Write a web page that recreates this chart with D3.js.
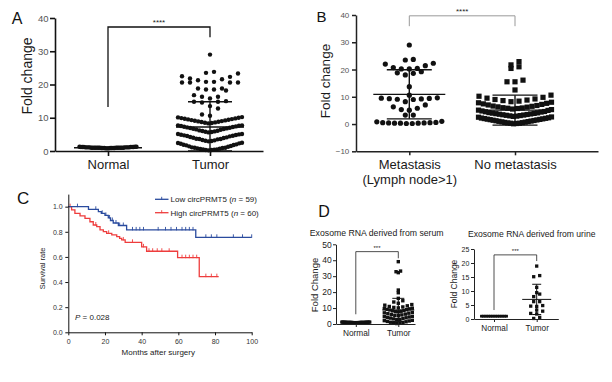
<!DOCTYPE html>
<html><head><meta charset="utf-8">
<script src="https://cdn.jsdelivr.net/npm/d3@7"></script>
<style>body{margin:0;background:#fff}svg{display:block}</style>
</head><body>
<script>
// ---------------- DATA ----------------
const groupCats = ["Normal", "Tumor"];
const metCats = ["Metastasis", "No metastasis"];

// Panel A
const yTicksA = [0, 10, 20, 30, 40];
const normalA = [1.0,1.1,0.9,1.2,1.0,0.8,1.3,1.1,1.0,0.9,1.2,1.0,1.1,0.9,1.0,1.3,0.8,1.1,1.0,1.2,
                 0.9,1.0,1.1,1.0,0.9,1.2,1.0,1.1,0.8,1.0,1.3,1.1,0.9,1.0,1.2,1.0,1.1,0.9,1.0,1.2];
const tumorA = [0.2,0.3,0.3,0.4,0.5,0.5,0.6,0.7,0.8,0.9,1.0,1.0,1.1,1.3,1.4,1.5,1.7,1.8,1.9,2.0,2.2,2.3,2.4,2.5,
                2.9,3.0,3.1,3.2,3.3,3.5,3.6,3.6,3.7,3.9,4.0,4.1,4.2,4.4,4.5,4.6,4.7,4.8,4.9,5.0,5.1,5.1,
                5.6,5.7,5.8,5.9,6.0,6.1,6.2,6.4,6.5,6.6,6.7,6.8,6.9,7.0,7.1,7.2,7.3,7.4,7.5,7.6,7.7,7.7,
                8.3,8.4,8.5,8.6,8.7,8.8,8.9,9.0,9.1,9.2,9.3,9.4,9.5,9.6,9.7,9.8,9.9,10.0,10.1,10.2,
                10.6,11.0,12.8,13.5,14.6,14.8,14.8,15.0,15.8,16.3,16.3,16.8,18.2,18.5,18.5,18.8,18.8,
                20.6,20.6,20.6,20.6,20.8,20.8,21.3,21.6,21.8,22.3,22.5,23.3,23.5,23.8,29.0];
const meanA = [1.0, 7.2];
const sdA = [0.15, 7.6];

// Panel B
const yTicksB = [-10, 0, 10, 20, 30, 40];
const metastasis = [0.2,0.2,0.3,0.3,0.3,0.4,0.4,0.5,0.5,0.6,0.8,1.0, 3.3,3.3, 5.1,5.3,5.8,6.3,7.0,
                    8.2,9.0,9.1,9.2,9.3,9.4,9.5,9.6, 10.6, 13.7, 18.0,18.6,18.8,19.2,
                    20.2,20.2,20.4,20.7,21.4,22.0,22.3, 23.5,23.7, 29.0];
const noMetastasis = [0.1,0.2,0.3,0.3,0.4,0.5,0.6,0.7,0.8,0.9,1.0,1.1,1.2,1.3,1.4,1.5,1.6,1.7,1.8,1.9,2.0,2.1,2.2,2.3,2.5,2.6,
                      2.8,2.9,3.0,3.1,3.2,3.3,3.4,3.5,3.6,3.7,3.8,3.9,4.0,4.1,4.2,4.4,4.5,4.6,4.8,5.0,5.1,5.3,
                      5.5,5.7,5.8,5.9,6.0,6.2,6.3,6.5,6.6,6.8,7.0,7.2,7.4,7.6,7.8,8.0,
                      8.2,8.4,8.6,8.8,9.0,9.2,9.5,9.8,10.2,10.6,
                      12.5,15.5,15.5,16.1,20.4,21.0,21.7,22.9];
const meanB = [10.9, 5.1];
const sdB = [9.0, 5.5];

// Panel C (Kaplan-Meier)
const monthTicks = [0, 20, 40, 60, 80, 100];
const survTicks = [0, 0.2, 0.4, 0.6, 0.8, 1.0];
const lowTimes = [0, 11, 16.4, 18, 20, 21.8, 23, 24.5, 27.3, 31.8, 69.5];
const lowSurv  = [1, 0.979, 0.96, 0.947, 0.93, 0.91, 0.89, 0.87, 0.85, 0.815, 0.756];
const lowEnd = 100;
const lowCensor = [5, 15, 18.5, 20.5, 22.5, 24, 26, 28, 30, 35, 37, 39, 41, 49, 53, 56, 59, 62, 64, 66, 68, 75, 78, 81, 90, 95, 100];
const highTimes = [0, 1.8, 3.6, 6.4, 9.1, 11.8, 13.6, 15.5, 17.3, 19.1, 20.9, 23.7, 26.4, 28.0, 29.1, 31, 40, 42.7, 59.6, 71.4];
const highSurv  = [1, 0.974, 0.947, 0.926, 0.907, 0.88, 0.854, 0.841, 0.815, 0.801, 0.788, 0.775, 0.761, 0.748, 0.735, 0.716, 0.68, 0.645, 0.594, 0.443];
const highEnd = 82;
const highCensor = [1, 15, 22, 30, 35, 41, 44, 46, 48.5, 51, 55, 62, 64, 66, 68, 70, 75, 78, 81];
const legendNames = ["Low circPRMT5", "High circPRMT5"];
const legendN = [59, 60];
const pValue = "0.028";

// Panel D
const yTicksSerum = [0, 10, 20, 30, 40, 50];
const serumNormal = [1.0,1.1,0.9,1.0,1.2,0.9,1.0,1.1,1.0,0.8,1.1,1.0,0.9,1.2,1.0,1.1,0.9,1.0,1.0,1.1,
                     0.9,1.0,1.2,1.0,0.9,1.1,1.0,0.8,1.0,1.1,0.9,1.0,1.2,1.0,1.1];
const serumTumor = [0.3,0.5,0.7,0.9,1.1,1.4,1.6,1.9,2.1,2.3,
                    2.7,2.9,3.2,3.4,3.7,3.9,4.1,4.4,4.6,4.8,
                    5.2,5.4,5.7,6.0,6.2,6.5,6.8,7.0,7.3,
                    7.6,7.8,8.0,8.3,8.5,8.8,9.0,9.2,9.5,9.7,9.9,
                    10.1,10.4,10.7,11.0,11.4,11.8,12.2,
                    13.0,13.8,14.6,16.1,19.6,21.3,32.2,32.8,33.2,39.1];
const meanSerum = [1.0, 8.8];
const sdSerum = [0.1, 7.3];

const yTicksUrine = [0, 5, 10, 15, 20, 25];
const urineNormal = [1,1,1,1,1,1,1,1,1,1,1,1,1,1,1];
const urineTumor = [0.2,0.6,1.8,2.0,2.8,3.2,4.5,4.6,4.8,6.2,6.2,8.0,8.9,9.4,11.3,15.1,15.5,18.9];
const meanUrine = [1.0, 7.0];
const sdUrine = [0.0, 5.4];

// ---------------- DRAWING ----------------
const FONT = "'Liberation Sans', Arial, Helvetica, sans-serif";
const svg = d3.select("body").append("svg").attr("width", 612).attr("height", 382)
  .attr("font-family", FONT);
svg.append("rect").attr("width", 612).attr("height", 382).attr("fill", "#fff");

function pointScale(dom, x0, x1, c0, c1) {
  const step = (c1 - c0) / (dom.length - 1);
  const p = ((x1 - x0) / step - (dom.length - 1)) / 2;
  const a = (c0 - x0) / ((x1 - x0) - step * (dom.length - 1));
  return d3.scalePoint().domain(dom).range([x0, x1]).padding(p).align(a);
}

// Prism-like column scatter: bin by value, lowest in centre, alternating outward
function swarm(values, binW, sMax, wMax) {
  const bins = d3.group(values, v => Math.floor(v / binW));
  const out = [];
  for (const [, arr] of bins) {
    const sorted = arr.slice().sort((a, b) => a - b);
    const n = sorted.length;
    const s = n > 1 ? Math.min(sMax, wMax / (n - 1)) : 0;
    const slots = d3.range(n).map(j => (j - (n - 1) / 2) * s);
    slots.sort((a, b) => Math.abs(a) - Math.abs(b) || a - b);
    sorted.forEach((v, i) => out.push({ v, dx: slots[i] }));
  }
  return out;
}

function styleAxis(sel, o) {
  sel.attr("font-family", FONT).attr("font-size", o.font);
  sel.select(".domain").attr("stroke", o.stroke).attr("stroke-width", o.sw);
  sel.selectAll(".tick line").attr("stroke", o.stroke).attr("stroke-width", o.sw);
  sel.selectAll(".tick text").attr("fill", o.color);
}

function scatterPanel(c) {
  const g = svg.append("g");
  const x = pointScale(c.cats, c.x0, c.x1, c.c0, c.c1);
  const y = d3.scaleLinear().domain(c.yDomain).range(c.yRange);

  // dots
  c.groups.forEach((gr, i) => {
    const cx = x(c.cats[i]);
    const pts = swarm(gr.values, gr.binW, gr.sMax, gr.wMax);
    if (gr.shape === "circle") {
      g.append("g").selectAll("circle").data(pts).join("circle")
        .attr("cx", d => cx + d.dx).attr("cy", d => y(d.v)).attr("r", gr.size / 2).attr("fill", "#111");
    } else {
      g.append("g").selectAll("rect").data(pts).join("rect")
        .attr("x", d => cx + d.dx - gr.size / 2).attr("y", d => y(d.v) - gr.size / 2)
        .attr("width", gr.size).attr("height", gr.size).attr("fill", "#111");
    }
    // mean and SD
    const m = gr.mean, sd = gr.sd;
    const lo = Math.max(c.yDomain[0], m - sd);
    const eb = g.append("g").attr("stroke", "#111").attr("stroke-width", c.ebw);
    eb.append("line").attr("x1", cx - gr.meanW / 2).attr("x2", cx + gr.meanW / 2).attr("y1", y(m)).attr("y2", y(m));
    if (sd > 0) {
      eb.append("line").attr("x1", cx).attr("x2", cx).attr("y1", y(lo)).attr("y2", y(m + sd));
      [m + sd, lo].forEach(v => eb.append("line").attr("x1", cx - gr.capW / 2).attr("x2", cx + gr.capW / 2)
        .attr("y1", y(v)).attr("y2", y(v)));
    }
  });

  // axes
  const ya = g.append("g").attr("transform", `translate(${c.x0},0)`)
    .call(d3.axisLeft(y).tickValues(c.yTicks).tickSize(c.tick).tickPadding(c.yPad).tickSizeOuter(0));
  styleAxis(ya, { font: c.yFont, stroke: c.axisColor, sw: c.axisW, color: c.tickColor });
  const xa = g.append("g").attr("transform", `translate(0,${y(c.yDomain[0])})`)
    .call(d3.axisBottom(x).tickSize(c.tick).tickPadding(c.xPad).tickSizeOuter(0));
  styleAxis(xa, { font: c.catFont, stroke: c.axisColor, sw: c.axisW, color: "#1a1a1a" });
  if (c.subLabel) {
    xa.selectAll(".tick text").filter(d => d === c.subLabel.cat)
      .append("tspan").attr("x", 0).attr("dy", c.subLabel.dy).text(c.subLabel.text);
  }

  // y title
  g.append("text").attr("transform", `translate(${c.yTitle.x},${c.yTitle.y}) rotate(-90)`)
    .attr("text-anchor", "middle").attr("dominant-baseline", "central")
    .attr("font-size", c.yTitle.size).attr("fill", "#1a1a1a").text(c.yTitle.text);

  // significance bracket
  const b = c.bracket;
  const xl = x(c.cats[0]), xr = x(c.cats[1]);
  g.append("path").attr("d", `M${xl},${y(b.left)}V${y(b.top)}H${xr}V${y(b.right)}`)
    .attr("fill", "none").attr("stroke", b.color).attr("stroke-width", b.w);
  g.append("text").attr("x", (xl + xr) / 2).attr("y", y(b.top) - b.gap).attr("text-anchor", "middle")
    .attr("font-size", b.size).attr("fill", "#222").text(b.label);

  if (c.title) {
    g.append("text").attr("x", c.title.x).attr("y", c.title.y).attr("text-anchor", "middle")
      .attr("dominant-baseline", "central").attr("font-size", c.title.size).attr("fill", "#1a1a1a").text(c.title.text);
  }
}

// Panel A
scatterPanel({
  cats: groupCats, x0: 55, x1: 263, c0: 108, c1: 210,
  yDomain: [0, 40], yRange: [151, 18], yTicks: yTicksA,
  tick: 5, yPad: 1.5, xPad: 4, yFont: 9.5, catFont: 13, tickColor: "#555",
  axisColor: "#111", axisW: 1.6, ebw: 1.4,
  groups: [
    { values: normalA, shape: "circle", size: 4.4, binW: 2.6, sMax: 7.5, wMax: 57, mean: meanA[0], sd: sdA[0], meanW: 68, capW: 20 },
    { values: tumorA, shape: "circle", size: 4.4, binW: 2.6, sMax: 8, wMax: 64, mean: meanA[1], sd: sdA[1], meanW: 68, capW: 44 }
  ],
  yTitle: { text: "Fold change", x: 27, y: 76, size: 14 },
  bracket: { top: 37.3, left: 13.2, right: 34.2, label: "****", color: "#111", w: 1.3, size: 8, gap: 2 }
});

// Panel B
scatterPanel({
  cats: metCats, x0: 356, x1: 598, c0: 409.3, c1: 515,
  yDomain: [-10, 40], yRange: [151.3, 15], yTicks: yTicksB,
  tick: 4, yPad: 2.7, xPad: 4, yFont: 8, catFont: 13, tickColor: "#555",
  axisColor: "#222", axisW: 1.5, ebw: 1.4,
  groups: [
    { values: metastasis, shape: "circle", size: 5.2, binW: 2.5, sMax: 8, wMax: 65, mean: meanB[0], sd: sdB[0], meanW: 72, capW: 45 },
    { values: noMetastasis, shape: "square", size: 5.2, binW: 2.7, sMax: 8, wMax: 73, mean: meanB[1], sd: sdB[1], meanW: 74, capW: 45 }
  ],
  subLabel: { cat: "Metastasis", text: "(Lymph node>1)", dy: 15.5 },
  yTitle: { text: "Fold change", x: 325, y: 81, size: 13.5 },
  bracket: { top: 39.7, left: 35.9, right: 35.9, label: "****", color: "#999", w: 1, size: 8, gap: 2 }
});

// Panel D left (serum)
scatterPanel({
  cats: groupCats, x0: 336, x1: 415, c0: 355.8, c1: 398.3,
  yDomain: [0, 50], yRange: [324, 244.3], yTicks: yTicksSerum,
  tick: 3, yPad: 1.2, xPad: 3, yFont: 8.5, catFont: 8.3, tickColor: "#222",
  axisColor: "#222", axisW: 1, ebw: 1,
  groups: [
    { values: serumNormal, shape: "square", size: 3.2, binW: 2.5, sMax: 4.5, wMax: 28, mean: meanSerum[0], sd: sdSerum[0], meanW: 30, capW: 0 },
    { values: serumTumor, shape: "square", size: 3.4, binW: 2.5, sMax: 4.5, wMax: 28, mean: meanSerum[1], sd: sdSerum[1], meanW: 32, capW: 12 }
  ],
  yTitle: { text: "Fold Change", x: 314, y: 285, size: 9.5 },
  bracket: { top: 45.4, left: 6.1, right: 41.2, label: "***", color: "#222", w: 0.8, size: 6, gap: 1.5 },
  title: { text: "Exosome RNA derived from serum", x: 376.7, y: 233.3, size: 8.7 }
});

// Panel D right (urine)
scatterPanel({
  cats: groupCats, x0: 474, x1: 558.3, c0: 494, c1: 536.7,
  yDomain: [0, 25], yRange: [319, 249], yTicks: yTicksUrine,
  tick: 3, yPad: 1.7, xPad: 3, yFont: 7, catFont: 8.2, tickColor: "#222",
  axisColor: "#222", axisW: 1, ebw: 1,
  groups: [
    { values: urineNormal, shape: "square", size: 2.8, binW: 1.5, sMax: 6, wMax: 25, mean: meanUrine[0], sd: sdUrine[0], meanW: 28, capW: 0 },
    { values: urineTumor, shape: "square", size: 3.3, binW: 1.5, sMax: 6, wMax: 20, mean: meanUrine[1], sd: sdUrine[1], meanW: 29, capW: 9 }
  ],
  yTitle: { text: "Fold Change", x: 454, y: 284, size: 8.5 },
  bracket: { top: 22.9, left: 3.2, right: 20.7, label: "***", color: "#222", w: 0.8, size: 6, gap: 1.5 },
  title: { text: "Exosome RNA derived from urine", x: 531.7, y: 234.3, size: 8.6 }
});

// Panel C (Kaplan-Meier)
(function () {
  const g = svg.append("g");
  const x = d3.scaleLinear().domain([0, 100]).range([68.3, 251.7]);
  const y = d3.scaleLinear().domain([0, 1.1]).range([332.3, 194.1]);
  const series = [
    { times: lowTimes, surv: lowSurv, end: lowEnd, censor: lowCensor, color: "#2a4b9e" },
    { times: highTimes, surv: highSurv, end: highEnd, censor: highCensor, color: "#ee3d3d" }
  ];
  const line = d3.line().curve(d3.curveStepAfter).x(d => x(d[0])).y(d => y(d[1]));
  series.slice().reverse().forEach(s => {
    const pts = s.times.map((t, i) => [t, s.surv[i]]);
    pts.push([s.end, s.surv[s.surv.length - 1]]);
    g.append("path").attr("d", line(pts)).attr("fill", "none").attr("stroke", s.color).attr("stroke-width", 1.3);
    const survAt = t => s.surv[Math.max(0, d3.bisectRight(s.times, t) - 1)];
    g.append("g").selectAll("line").data(s.censor).join("line")
      .attr("x1", d => x(d)).attr("x2", d => x(d))
      .attr("y1", d => y(survAt(d)) - 3).attr("y2", d => y(survAt(d)) + 0.5)
      .attr("stroke", s.color).attr("stroke-width", 0.9);
  });

  const ya = g.append("g").attr("transform", `translate(${x(0)},0)`)
    .call(d3.axisLeft(y).tickValues(survTicks).tickFormat(d3.format(".1f")).tickSize(3).tickPadding(2.6).tickSizeOuter(0));
  styleAxis(ya, { font: 7, stroke: "#111", sw: 1, color: "#333" });
  const xa = g.append("g").attr("transform", `translate(0,${y(0)})`)
    .call(d3.axisBottom(x).tickValues(monthTicks).tickSize(3).tickPadding(3.5).tickSizeOuter(0));
  styleAxis(xa, { font: 7, stroke: "#111", sw: 1, color: "#333" });

  g.append("text").attr("x", 158.3).attr("y", 352.7).attr("text-anchor", "middle").attr("dominant-baseline", "central")
    .attr("font-size", 8).attr("fill", "#222").text("Months after surgery");
  g.append("text").attr("transform", "translate(42.7,268.3) rotate(-90)").attr("text-anchor", "middle")
    .attr("dominant-baseline", "central").attr("font-size", 7.5).attr("fill", "#222").text("Survival rate");

  const pt = g.append("text").attr("x", 75).attr("y", 319.5).attr("font-size", 8).attr("fill", "#222");
  pt.append("tspan").attr("font-style", "italic").text("P");
  pt.append("tspan").text(" = " + pValue);

  const ly = [199.3, 212.7];
  series.forEach((s, i) => {
    g.append("line").attr("x1", 155).attr("x2", 168.5).attr("y1", ly[i]).attr("y2", ly[i])
      .attr("stroke", s.color).attr("stroke-width", 1.3);
    g.append("line").attr("x1", 161.7).attr("x2", 161.7).attr("y1", ly[i] - 2.5).attr("y2", ly[i] + 0.5)
      .attr("stroke", s.color).attr("stroke-width", 0.9);
    const t = g.append("text").attr("x", 170.5).attr("y", ly[i] + 2.9).attr("font-size", 8).attr("fill", "#222");
    t.append("tspan").text(legendNames[i] + " (");
    t.append("tspan").attr("font-style", "italic").text("n");
    t.append("tspan").text(" = " + legendN[i] + ")");
  });
})();

// Panel letters
[["A", 11.7, 24, 16], ["B", 316.5, 21.7, 15], ["C", 17, 204, 17], ["D", 318.3, 216.7, 16]].forEach(([t, lx, ly, fs]) =>
  svg.append("text").attr("x", lx).attr("y", ly).attr("font-size", fs).attr("fill", "#111").text(t));
</script>
</body></html>
